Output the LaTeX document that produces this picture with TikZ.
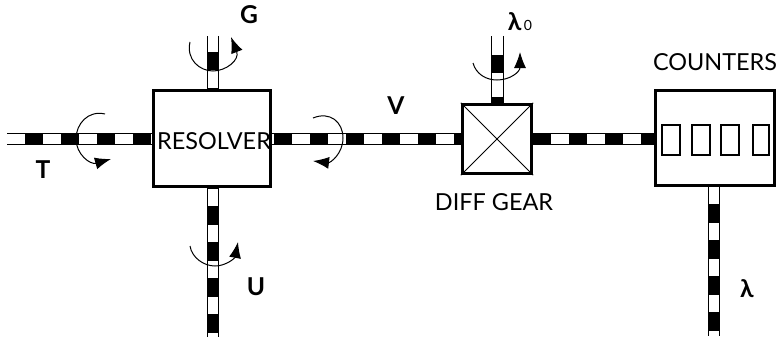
\documentclass[tikz,border=0pt]{standalone}
\usepackage{fontspec}
\setmainfont{Lato}
\usetikzlibrary{arrows.meta}
\tikzset{
  boxpart/.style={draw=black,line width=0.9mm,fill=white,inner sep=0pt},
  windowbox/.style={draw=black,line width=0.6mm,fill=white,inner sep=0pt,minimum width=#1,minimum height=9.2mm},
  shaftline/.style n args={3}{draw=black,line width=3.4mm,dash pattern=on #1 off #2,dash phase=#3,
    preaction={draw=black,solid,line width=3.7mm},preaction={draw=white,solid,line width=3.1mm}},
  turnarrow/.style={draw=black,line width=0.3mm,-{Latex[length=4.8mm,width=3.6mm]}},
  partname/.style={font=\fontsize{20}{24}\selectfont,inner sep=0pt},
  shaftname/.style={font=\fontsize{21}{25}\bfseries\selectfont,inner sep=0pt}
}
\begin{document}
\begin{tikzpicture}[x=0.03cm,y=-0.03cm]
\useasboundingbox (0,0) rectangle (779,339);
\node[boxpart,minimum width=3.5cm,minimum height=2.88cm] (resolver) at (212,138.5) {};
\node[boxpart,minimum width=2.08cm,minimum height=2.08cm] (diff) at (497,139) {};
\node[boxpart,minimum width=3.57cm,minimum height=2.86cm] (counters) at (715,138) {};
\node[windowbox=5.2mm] (win1) at (671,140) {};
\node[windowbox=5.2mm] (win2) at (701,140) {};
\node[windowbox=5.2mm] (win3) at (730,140) {};
\node[windowbox=4.6mm] (win4) at (761,140) {};
\coordinate (tend) at (7,139);
\coordinate (gend) at (213,36);
\coordinate (uend) at (213,337);
\coordinate (lzend) at (497.5,36);
\coordinate (lend) at (714,336);
\draw[shaftline={5.4mm}{5.4mm}{5.4mm}] (tend) -- (resolver.west |- tend);
\draw[shaftline={5.4mm}{5.4mm}{6mm}] (gend) -- (gend |- resolver.north);
\draw[shaftline={5.7mm}{5.1mm}{5.4mm}] (uend |- resolver.south) -- (uend);
\draw[shaftline={5.4mm}{5.4mm}{10.2mm}] (resolver.east |- tend) -- (diff.west |- tend);
\draw[shaftline={5.4mm}{7mm}{6.6mm}] (lzend) -- (lzend |- diff.north);
\draw[shaftline={5.4mm}{5.4mm}{0mm}] (diff.east |- tend) -- (counters.west |- tend);
\draw[shaftline={5.7mm}{5.1mm}{5.7mm}] (lend |- counters.south) -- (lend);
\draw[line width=0.3mm] (diff.north west) -- (diff.south east);
\draw[line width=0.3mm] (diff.north east) -- (diff.south west);
\coordinate (gfrom) at (190,42);
\coordinate (gto) at (231,37);
\coordinate (tfrom) at (105,114);
\coordinate (tto) at (111,159);
\coordinate (ufrom) at (190,246);
\coordinate (uto) at (238,242);
\coordinate (vfrom) at (313,118);
\coordinate (vto) at (313,161);
\coordinate (lzfrom) at (473,63);
\coordinate (lzto) at (520,52);
\draw[turnarrow] (gfrom) .. controls (186,60) and (200,71) .. (213,71) .. controls (226,71) and (240,60) .. (gto);
\draw[turnarrow] (tfrom) .. controls (88,110) and (76,124) .. (76,139) .. controls (76,154) and (90,165) .. (tto);
\draw[turnarrow] (ufrom) .. controls (192,258) and (204,266) .. (215,266) .. controls (226,266) and (235,258) .. (uto);
\draw[turnarrow] (vfrom) .. controls (330,111) and (343,122) .. (343,138) .. controls (343,154) and (330,163) .. (vto);
\draw[turnarrow] (lzfrom) .. controls (476,74) and (486,80) .. (497,80) .. controls (510,80) and (520,72) .. (lzto);
\node[partname] (resolvername) at (214,141) {RESOLVER};
\node[partname] (diffname) at (494,202) {DIFF GEAR};
\node[partname] (countersname) at (715,62) {COUNTERS};
\node[shaftname] (gname) at (249,15) {G};
\node[shaftname] (tname) at (43,170) {T};
\node[shaftname] (uname) at (256,287) {U};
\node[shaftname] (vname) at (396,106) {V};
\node[shaftname] (lzname) at (520,22) {λ{\fontsize{12}{14}\mdseries\selectfont\,0}};
\node[shaftname] (lname) at (747,289) {λ};
\end{tikzpicture}
\end{document}
